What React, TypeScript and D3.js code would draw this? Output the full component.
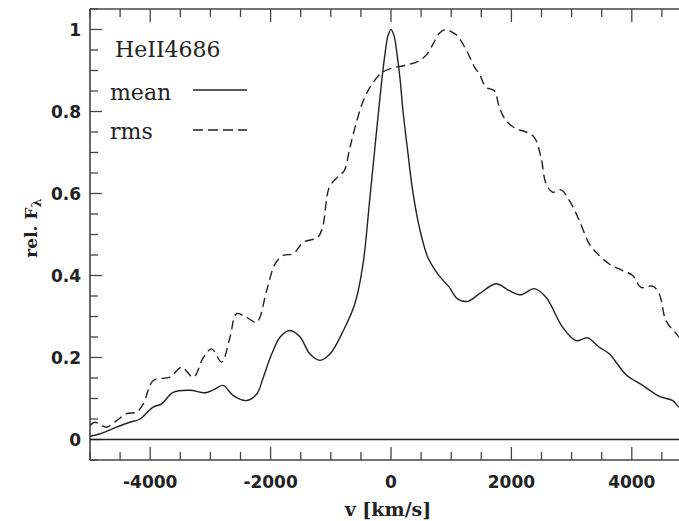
import React from "react";
import * as d3 from "d3";

const meanV = [-5000,-4830,-4560,-4340,-4170,-3950,-3810,-3620,-3340,-3090,-2950,-2790,-2620,-2400,-2230,-2120,-1980,-1840,-1680,-1510,-1350,-1180,-1010,-790,-600,-465,-355,-272,-200,-150,-100,-50,0,50,100,150,200,276,360,470,610,775,970,1105,1275,1465,1745,1965,2160,2380,2575,2850,3075,3265,3460,3625,3905,4180,4460,4680,4775,4900];
const meanF = [0.008,0.014,0.03,0.042,0.05,0.079,0.087,0.115,0.12,0.114,0.121,0.132,0.107,0.095,0.111,0.152,0.209,0.25,0.266,0.25,0.209,0.193,0.209,0.266,0.331,0.428,0.583,0.705,0.81,0.88,0.94,0.985,1.0,0.985,0.94,0.88,0.8,0.705,0.607,0.518,0.445,0.404,0.371,0.343,0.337,0.355,0.38,0.363,0.353,0.368,0.347,0.274,0.241,0.248,0.225,0.209,0.158,0.132,0.105,0.095,0.08,0.07];

const rmsV = [-5000,-4917,-4806,-4723,-4558,-4391,-4225,-4114,-3948,-3671,-3477,-3283,-3117,-2979,-2813,-2674,-2564,-2398,-2232,-2066,-1927,-1789,-1623,-1457,-1219,-1136,-1025,-887,-776,-693,-600,-450,-300,-150,0,150,300,450,600,700,800,900,1000,1100,1250,1400,1467,1578,1716,1799,1910,2076,2243,2380,2492,2575,2686,2824,2962,3128,3294,3405,3626,3848,4014,4153,4346,4457,4568,4761,4900];
const rmsF = [0.034,0.042,0.034,0.03,0.046,0.063,0.067,0.087,0.144,0.152,0.176,0.152,0.2,0.221,0.189,0.25,0.307,0.298,0.286,0.363,0.428,0.449,0.453,0.481,0.493,0.518,0.615,0.64,0.656,0.705,0.76,0.83,0.87,0.895,0.905,0.91,0.915,0.922,0.94,0.965,0.99,1.0,0.995,0.985,0.95,0.905,0.892,0.859,0.851,0.81,0.778,0.758,0.75,0.737,0.688,0.624,0.603,0.609,0.583,0.534,0.477,0.457,0.428,0.412,0.4,0.371,0.374,0.355,0.29,0.254,0.23];

const xTickLabels = [-4000, -2000, 0, 2000, 4000];
const yTickLabels = [0, 0.2, 0.4, 0.6, 0.8, 1];

const W = 679, H = 521;
const L = 90, R = 692, T = 9, B = 460;

export default function App() {
  const x = d3.scaleLinear().domain([-5000, 5000]).range([L, R]);
  const y = d3.scaleLinear().domain([-0.05, 1.05]).range([B, T]);
  const line = d3.line<[number, number]>().x(d => x(d[0])).y(d => y(d[1])).curve(d3.curveCatmullRom.alpha(0.5));
  const meanPath = line(meanV.map((v, i) => [v, meanF[i]]))!;
  const rmsPath = line(rmsV.map((v, i) => [v, rmsF[i]]))!;
  const xMinor = d3.range(-5000, 5001, 500);
  const yMinor = d3.range(0, 23).map(i => -0.05 + i * 0.05).filter(v => v > -0.06 && v < 1.06);
  const axisColor = "#444";
  const tickFont = "'DejaVu Sans', sans-serif";
  const serif = "'DejaVu Serif', serif";
  return (
    <svg width={W} height={H} style={{ position: "absolute", left: 0, top: 0, background: "#fff" }}>
      <defs>
        <clipPath id="plot"><rect x={L} y={T} width={R - L} height={B - T} /></clipPath>
      </defs>
      <line x1={L} y1={T} x2={R} y2={T} stroke={axisColor} strokeWidth={1.6} />
      <line x1={L} y1={B} x2={R} y2={B} stroke={axisColor} strokeWidth={1.6} />
      <line x1={L} y1={T} x2={L} y2={B} stroke={axisColor} strokeWidth={1.6} />
      <line x1={R} y1={T} x2={R} y2={B} stroke={axisColor} strokeWidth={1.6} />
      {xMinor.map(v => {
        const major = Math.round(v) % 2000 === 0;
        const len = major ? 13 : 8;
        return (
          <g key={"xt" + v}>
            <line x1={x(v)} x2={x(v)} y1={B} y2={B - len} stroke={axisColor} strokeWidth={1.3} />
            <line x1={x(v)} x2={x(v)} y1={T} y2={T + len} stroke={axisColor} strokeWidth={1.3} />
          </g>
        );
      })}
      {yMinor.map(v => {
        const major = Math.abs(Math.round(v * 100) % 20) === 0;
        const len = major ? 12 : 8;
        return (
          <g key={"yt" + v.toFixed(2)}>
            <line x1={L} x2={L + len} y1={y(v)} y2={y(v)} stroke={axisColor} strokeWidth={1.3} />
            <line x1={R} x2={R - len} y1={y(v)} y2={y(v)} stroke={axisColor} strokeWidth={1.3} />
          </g>
        );
      })}
      {xTickLabels.map(v => (
        <text key={"xl" + v} x={x(v)} y={487.5} textAnchor="middle" fontFamily={tickFont} fontWeight="bold" fontSize={17} fill="#222">
          {v < 0 ? "-" + Math.abs(v) : String(v)}
        </text>
      ))}
      {yTickLabels.map(v => (
        <text key={"yl" + v} x={81} y={y(v) + 6} textAnchor="end" fontFamily={tickFont} fontWeight="bold" fontSize={17} fill="#222">
          {String(v)}
        </text>
      ))}
      <line x1={L} x2={R} y1={y(0)} y2={y(0)} stroke="#222" strokeWidth={1.3} />
      <g clipPath="url(#plot)">
        <path d={meanPath} fill="none" stroke="#222" strokeWidth={1.4} />
        <path d={rmsPath} fill="none" stroke="#222" strokeWidth={1.4} strokeDasharray="9,5" />
      </g>
      <text x={115} y={57} fontFamily={serif} fontSize={22} fill="#222">HeII4686</text>
      <text x={110} y={100} fontFamily={serif} fontSize={22} fill="#222">mean</text>
      <line x1={193} x2={247} y1={90} y2={90} stroke="#222" strokeWidth={1.3} />
      <text x={110} y={139} fontFamily={serif} fontSize={22} fill="#222">rms</text>
      <line x1={193} x2={247} y1={130} y2={130} stroke="#222" strokeWidth={1.3} strokeDasharray="10,5" />
      <text x={388} y={516} textAnchor="middle" fontFamily={serif} fontWeight="bold" fontSize={19} fill="#222">v  [km/s]</text>
      <text transform="translate(37,228) rotate(-90)" textAnchor="middle" fontFamily={serif} fontWeight="bold" fontSize={17} fill="#222">
        rel.  F<tspan dy={4} fontSize={13}>λ</tspan>
      </text>
    </svg>
  );
}
